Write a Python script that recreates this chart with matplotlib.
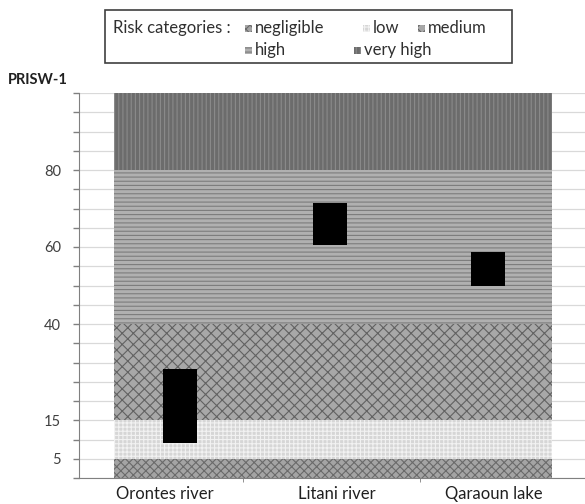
import matplotlib
matplotlib.use("Agg")
import matplotlib.pyplot as plt
from matplotlib.patches import Rectangle
import numpy as np

plt.rcParams['font.family'] = ['Lato', 'DejaVu Sans']
plt.rcParams['hatch.linewidth'] = 0.8

# ---- data ----
categories = ["Orontes river", "Litani river", "Qaraoun lake"]
box_low = [9.0, 60.5, 50.0]
box_high = [28.2, 71.3, 58.8]
band_names = ["negligible", "low", "medium", "high", "very high"]
band_edges = [0, 5, 15, 40, 80, 100]
ytick_labels = [5, 15, 40, 60, 80]

# ---- styles ----
band_fill = ["#a4a4a4", "#d6d6d6", "#a8a8a8", "#b0b0b0", "#6c6c6c"]
band_hatch_col = ["#6a6a6a", "#f2f2f2", "#626262", "#7c7c7c", "#8a8a8a"]
band_hatch = ["xxxx", "++++", "xxx", "----", "||||"]

W, H = 585, 504
fig = plt.figure(figsize=(W / 100, H / 100), dpi=100)
ax_left, ax_right = 79, 585
ax_bot, ax_top = 478, 93
ax = fig.add_axes([ax_left / W, 1 - ax_bot / H, (ax_right - ax_left) / W, (ax_bot - ax_top) / H])

px_per_unit = (ax_right - ax_left) / 3.0
def xd(px):
    return (px - ax_left) / px_per_unit

ax.set_xlim(0, 3)
ax.set_ylim(0, 100)

# grid
ax.set_yticks(np.arange(0, 101, 5))
ax.yaxis.grid(True, color="#d9d9d9", linewidth=0.9)
ax.set_axisbelow(True)
ax.set_yticklabels([str(v) if v in ytick_labels else "" for v in np.arange(0, 101, 5)])
ax.tick_params(axis="y", direction="out", length=4, width=1, color="#808080",
               labelcolor="#404040", labelsize=10.5, pad=9)

# bands
b_left, b_right = xd(114), xd(552)
for i in range(len(band_names)):
    lo, hi = band_edges[i], band_edges[i + 1]
    ax.bar((b_left + b_right) / 2, hi - lo, width=b_right - b_left, bottom=lo,
           color=band_fill[i], edgecolor=band_hatch_col[i], hatch=band_hatch[i],
           linewidth=0, zorder=2)

# boxes
box_px = [180, 330, 487.5]
box_x = [xd(p) for p in box_px]
ax.bar(box_x, np.array(box_high) - np.array(box_low), width=34 / px_per_unit,
       bottom=box_low, color="black", linewidth=0, zorder=3)

# x axis
ax.set_xticks([xd(243), xd(420)], minor=True)
ax.tick_params(axis="x", which="minor", direction="out", length=3, color="#808080")
label_px = [165, 337, 494]
ax.set_xticks([xd(p) for p in label_px])
ax.set_xticklabels(categories)
ax.tick_params(axis="x", which="major", length=0, labelsize=12, labelcolor="#202020", pad=6)

for s in ["top", "right"]:
    ax.spines[s].set_visible(False)
ax.spines["left"].set_color("#808080")
ax.spines["bottom"].set_color("#808080")

# y title
fig.text(8 / W, 1 - 80 / H, "PRISW-1", fontsize=10.5, fontweight="bold", color="#202020",
         va="center", ha="left")

# legend box
lx0, lx1, ly0, ly1 = 105, 512, 10, 63
fig.patches.append(Rectangle((lx0 / W, 1 - ly1 / H), (lx1 - lx0) / W, (ly1 - ly0) / H,
                             transform=fig.transFigure, facecolor="white",
                             edgecolor="#404040", linewidth=1.2))
row_y = [28, 50]
fig.text(113 / W, 1 - row_y[0] / H, "Risk categories :", fontsize=12, color="#303030",
         va="center", ha="left")
entries = [(0, 245, 0), (1, 363, 0), (2, 418, 0), (3, 245, 1), (4, 354, 1)]
for bi, px, row in entries:
    msz = 7
    fig.patches.append(Rectangle((px / W, 1 - (row_y[row] + msz / 2) / H), msz / W, msz / H,
                                 transform=fig.transFigure, facecolor=band_fill[bi],
                                 edgecolor=band_hatch_col[bi], hatch=band_hatch[bi],
                                 linewidth=0))
    fig.text((px + msz + 3) / W, 1 - row_y[row] / H, band_names[bi], fontsize=12,
             color="#303030", va="center", ha="left")

fig.savefig("out.png", dpi=100)
